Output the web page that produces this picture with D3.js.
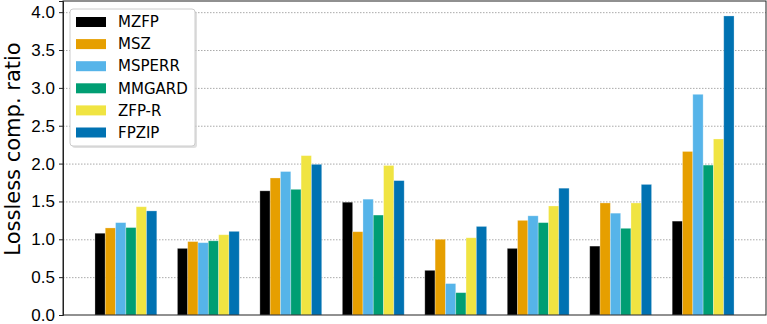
<!DOCTYPE html>
<html>
<head>
<meta charset="utf-8">
<script src="https://cdn.jsdelivr.net/npm/d3@7"></script>
<style>
  body { margin: 0; background: #fff; }
  svg { display: block; font-family: "DejaVu Sans", sans-serif; }
  .grid line { stroke: #aaa; stroke-dasharray: 1.5 1.5; stroke-width: 1; }
  .grid .domain { display: none; }
</style>
</head>
<body>
<svg id="chart" width="767" height="324"></svg>
<script>
// series names and colours
var series = ["MZFP", "MSZ", "MSPERR", "MMGARD", "ZFP-R", "FPZIP"];
var colors = ["#000000", "#E69F00", "#56B4E9", "#009E73", "#F0E442", "#0072B2"];

// one value per group (8 groups, no x labels)
var mzfp   = [1.08, 0.88, 1.64, 1.49, 0.59, 0.88, 0.91, 1.24];
var msz    = [1.15, 0.97, 1.81, 1.10, 1.00, 1.25, 1.48, 2.16];
var msperr = [1.22, 0.955, 1.895, 1.53, 0.415, 1.31, 1.345, 2.915];
var mmgard = [1.155, 0.98, 1.66, 1.32, 0.295, 1.22, 1.145, 1.98];
var zfpr   = [1.43, 1.06, 2.105, 1.975, 1.02, 1.44, 1.48, 2.325];
var fpzip  = [1.375, 1.105, 1.99, 1.775, 1.17, 1.675, 1.725, 3.95];

var yTicks = [0, 0.5, 1.0, 1.5, 2.0, 2.5, 3.0, 3.5, 4.0];

var values = [mzfp, msz, msperr, mmgard, zfpr, fpzip];
var barW = 0.125;

var margin = {top: 1, right: 1, bottom: 9, left: 63},
    width = 767 - margin.left - margin.right,
    height = 324 - margin.top - margin.bottom;

var svg = d3.select("#chart");
var g = svg.append("g")
  .attr("transform", "translate(" + margin.left + "," + margin.top + ")");

// matplotlib-like auto limits
var x = d3.scaleLinear().domain([-0.7625, 7.7625]).range([0, width]);
var y = d3.scaleLinear().domain([0, 4.1475]).range([height, 0]);

// dotted grid
g.append("g")
  .attr("class", "grid")
  .call(d3.axisLeft(y).tickValues(yTicks.slice(1)).tickSize(-width).tickFormat(""));

// bars
var data = [];
values.forEach(function(vals, s) {
  vals.forEach(function(v, i) {
    data.push({s: s, i: i, v: v});
  });
});

g.append("g")
  .selectAll("rect")
  .data(data)
  .enter()
  .append("rect")
  .attr("x", function(d) { return x(d.i + (d.s - 3) * barW); })
  .attr("width", x(barW) - x(0))
  .attr("y", function(d) { return y(d.v); })
  .attr("height", function(d) { return y(0) - y(d.v); })
  .style("fill", function(d) { return colors[d.s]; })
  .style("stroke", "rgba(255,255,255,0.35)")
  .style("stroke-width", 0.8);

// frame
g.append("rect")
  .attr("width", width).attr("height", height)
  .attr("fill", "none").attr("stroke", "#222").attr("stroke-width", 1);

// y axis
var yAxis = g.append("g")
  .call(d3.axisLeft(y).tickValues(yTicks).tickFormat(d3.format(".1f")).tickSize(4).tickPadding(4));
yAxis.select(".domain").attr("stroke", "#222");
yAxis.selectAll("text").style("font-size", "17px").attr("fill", "#000");
yAxis.selectAll("line").attr("stroke", "#222");

svg.append("text")
  .attr("transform", "translate(20,149) rotate(-90)")
  .attr("text-anchor", "middle")
  .style("font-size", "21px")
  .text("Lossless comp. ratio");

// legend
var legend = g.append("g").attr("transform", "translate(7,8)");
legend.append("rect")
  .attr("x", 2).attr("y", 2)
  .attr("width", 125).attr("height", 137)
  .attr("rx", 3)
  .attr("fill", "#ccc").attr("opacity", 0.6);
legend.append("rect")
  .attr("width", 125).attr("height", 137)
  .attr("rx", 3)
  .attr("fill", "#fff").attr("stroke", "#ccc");

var item = legend.selectAll(".legend-item")
  .data(series)
  .enter()
  .append("g")
  .attr("class", "legend-item")
  .attr("transform", function(d, i) { return "translate(0," + (13 + i * 22.1) + ")"; });

item.append("rect")
  .attr("x", 6).attr("y", -5)
  .attr("width", 30).attr("height", 10)
  .style("fill", function(d, i) { return colors[i]; });
item.append("text")
  .attr("x", 48).attr("dy", "0.35em")
  .style("font-size", "15px")
  .text(function(d) { return d; });
</script>
</body>
</html>
